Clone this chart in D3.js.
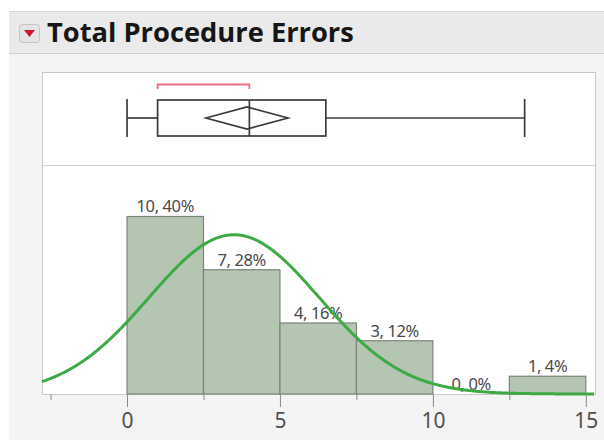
<!DOCTYPE html>
<html>
<head>
<meta charset="utf-8">
<script src="https://cdn.jsdelivr.net/npm/d3@7"></script>
<style>
  html, body { margin: 0; padding: 0; background: #fff; }
  svg { display: block; }
</style>
</head>
<body>
<div id="chart"></div>
<script>
'use strict';

// histogram bins (lower edges) and counts
var binEdges = [0, 2.5, 5, 7.5, 10, 12.5];
var binWidth = 2.5;
var counts = [10, 7, 4, 3, 0, 1];
var percents = [40, 28, 16, 12, 0, 4];

// outlier box plot summary
var boxMin = 0;
var boxQ1 = 1;
var boxMedian = 4;
var boxQ3 = 6.5;
var boxMax = 13;
var meanValue = 3.92;
var meanCI = [2.58, 5.26];
var shortestHalf = [1, 4];

// fitted normal
var fitMean = 3.5;
var fitSigma = 2.78;
var totalN = 25;

// axis ticks
var majorTicks = [0, 5, 10, 15];
var minorTicks = [-2.5, 2.5, 7.5, 12.5];

var width = 604;
var height = 440;

var frameLeft = 42;
var frameRight = 595;
var frameTop = 72;
var splitY = 165;
var baseY = 394;

var svg = d3.select('#chart')
            .append('svg')
            .attr('width', width)
            .attr('height', height);

// page background + header band
svg.append('rect')
    .attr('x', 9).attr('y', 11)
    .attr('width', width - 9).attr('height', height - 11)
    .style('fill', '#f4f4f4');

svg.append('rect')
    .attr('x', 9).attr('y', 11)
    .attr('width', width - 9).attr('height', 42)
    .style('fill', '#eaeaea');

svg.append('line')
    .attr('x1', 9).attr('x2', width)
    .attr('y1', 11.5).attr('y2', 11.5)
    .style('stroke', '#d6d6d6');
svg.append('line')
    .attr('x1', 9).attr('x2', width)
    .attr('y1', 53.5).attr('y2', 53.5)
    .style('stroke', '#cfcfcf');

// red disclosure icon
svg.append('rect')
    .attr('x', 19.5).attr('y', 24.5)
    .attr('width', 20).attr('height', 18)
    .attr('rx', 3)
    .style('fill', '#e4e4e4')
    .style('stroke', '#c4c4c4');
svg.append('path')
    .attr('d', 'M24,30 L35,30 L29.5,37 Z')
    .style('fill', '#d0142c');

var title = svg.append('text')
    .attr('x', 47)
    .attr('y', 42)
    .style('font-family', '"Open Sans", "Noto Sans", sans-serif')
    .style('font-weight', 'bold')
    .style('font-size', '26px')
    .style('fill', '#161616')
    .text('Total Procedure Errors');

// fit title to the reference width
var tw = title.node().getComputedTextLength();
title.style('font-size', (26 * 307 / tw) + 'px');

// plot frame
svg.append('rect')
    .attr('x', frameLeft + 0.5).attr('y', frameTop + 0.5)
    .attr('width', frameRight - frameLeft).attr('height', baseY - frameTop)
    .style('fill', '#fff')
    .style('stroke', '#c9c9c9');

svg.append('line')
    .attr('x1', frameLeft).attr('x2', frameRight)
    .attr('y1', splitY + 0.5).attr('y2', splitY + 0.5)
    .style('stroke', '#cfcfcf');

var x = d3.scaleLinear()
    .domain([-2.78, 15.3])
    .range([frameLeft, frameRight]);

var y = d3.scaleLinear()
    .domain([0, 12.9])
    .range([baseY, splitY]);

// --- box plot ---
var bp = svg.append('g').attr('class', 'boxplot');
var midY = 118;
var boxHalf = 18;
var lineStyle = function(sel) {
    return sel.style('stroke', '#3c3c3c').style('stroke-width', 1.7).style('fill', 'none');
};

lineStyle(bp.append('line')
    .attr('x1', x(boxMin)).attr('x2', x(boxQ1))
    .attr('y1', midY).attr('y2', midY));
lineStyle(bp.append('line')
    .attr('x1', x(boxQ3)).attr('x2', x(boxMax))
    .attr('y1', midY).attr('y2', midY));
lineStyle(bp.append('line')
    .attr('x1', x(boxMin)).attr('x2', x(boxMin))
    .attr('y1', midY - 19).attr('y2', midY + 19));
lineStyle(bp.append('line')
    .attr('x1', x(boxMax)).attr('x2', x(boxMax))
    .attr('y1', midY - 19).attr('y2', midY + 19));
lineStyle(bp.append('rect')
    .attr('x', x(boxQ1)).attr('y', midY - boxHalf)
    .attr('width', x(boxQ3) - x(boxQ1)).attr('height', boxHalf * 2));
lineStyle(bp.append('line')
    .attr('x1', x(boxMedian)).attr('x2', x(boxMedian))
    .attr('y1', midY - boxHalf).attr('y2', midY + boxHalf));

// mean diamond
var dh = 11;
lineStyle(bp.append('path')
    .attr('d', 'M' + x(meanCI[0]) + ',' + midY +
               ' L' + x(meanValue) + ',' + (midY - dh) +
               ' L' + x(meanCI[1]) + ',' + midY +
               ' L' + x(meanValue) + ',' + (midY + dh) + ' Z'));

// shortest half bracket
bp.append('path')
    .attr('d', 'M' + x(shortestHalf[0]) + ',89 L' + x(shortestHalf[0]) + ',84.5 L' +
               x(shortestHalf[1]) + ',84.5 L' + x(shortestHalf[1]) + ',89')
    .style('fill', 'none')
    .style('stroke', '#ee6c7e')
    .style('stroke-width', 1.8);

// --- histogram ---
var bins = binEdges.map(function(e, i) {
    return { x0: e, x1: e + binWidth, count: counts[i], pct: percents[i] };
});

svg.selectAll('.bar')
    .data(bins.filter(function(d) { return d.count > 0; }))
    .enter()
    .append('rect')
    .attr('class', 'bar')
    .attr('x', function(d) { return x(d.x0); })
    .attr('y', function(d) { return y(d.count); })
    .attr('width', function(d) { return x(d.x1) - x(d.x0); })
    .attr('height', function(d) { return baseY - y(d.count); })
    .style('fill', '#b4c5b1')
    .style('stroke', '#7b857a')
    .style('stroke-width', 1.2);

svg.selectAll('.bar-label')
    .data(bins)
    .enter()
    .append('text')
    .attr('class', 'bar-label')
    .attr('x', function(d) { return (x(d.x0) + x(d.x1)) / 2; })
    .attr('y', function(d) { return y(d.count) - 4; })
    .attr('text-anchor', 'middle')
    .style('font-family', '"Noto Sans", sans-serif')
    .style('font-size', '16.5px')
    .style('letter-spacing', '-0.4px')
    .style('fill', '#4a4a4a')
    .text(function(d) { return d.count + ', ' + d.pct + '%'; });

// normal fit curve
var normPdf = function(v) {
    var z = (v - fitMean) / fitSigma;
    return Math.exp(-0.5 * z * z) / (fitSigma * Math.sqrt(2 * Math.PI));
};
var curveX = d3.range(x.domain()[0], x.domain()[1] + 0.01, 0.05);

svg.append('path')
    .datum(curveX)
    .attr('d', d3.line()
        .x(function(v) { return x(v); })
        .y(function(v) { return y(totalN * binWidth * normPdf(v)); }))
    .style('fill', 'none')
    .style('stroke', '#3daa45')
    .style('stroke-width', 3);

// --- axis ---
var axisG = svg.append('g')
    .attr('transform', 'translate(0,' + baseY + ')')
    .call(d3.axisBottom(x).tickValues(majorTicks).tickSize(13).tickPadding(6)
        .tickFormat(d3.format('d')));

axisG.select('.domain').remove();
axisG.selectAll('line').style('stroke', '#8a8a8a');
axisG.selectAll('text')
    .style('font-family', '"Noto Sans", sans-serif')
    .style('font-size', '21px')
    .style('fill', '#505050');

var minorG = svg.append('g')
    .attr('transform', 'translate(0,' + baseY + ')')
    .call(d3.axisBottom(x).tickValues(minorTicks).tickSize(6).tickFormat(''));
minorG.select('.domain').remove();
minorG.selectAll('line').style('stroke', '#8a8a8a');
</script>
</body>
</html>
